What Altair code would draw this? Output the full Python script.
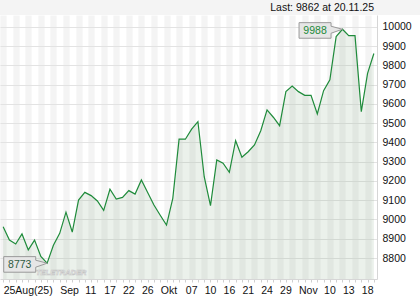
import json
import altair as alt
import pandas as pd

# ---- data ----
values = [8962, 8893, 8873, 8925, 8842, 8893, 8808, 8773, 8866, 8928,
          9038, 8935, 9101, 9141, 9124, 9096, 9047, 9157, 9106, 9115,
          9150, 9132, 9205, 9140, 9075, 9022, 8971, 9110, 9417, 9417,
          9469, 9508, 9222, 9072, 9309, 9292, 9245, 9409, 9323, 9352,
          9387, 9461, 9569, 9531, 9487, 9664, 9693, 9664, 9645, 9645,
          9548, 9669, 9725, 9950, 9988, 9955, 9955, 9560, 9759, 9862]
label_idx = [0, 9, 13, 16, 19, 22, 25, 29, 32, 35, 38, 41, 44, 47, 51, 54, 57]
label_txt = ["25Aug(25)", "Sep", "11", "17", "22", "26", "Okt", "07", "10",
             "16", "21", "24", "29", "Nov", "10", "13", "18"]
y_ticks = [8800, 8900, 9000, 9100, 9200, 9300, 9400, 9500, 9600, 9700,
           9800, 9900, 10000]
last_text = "Last: 9862 at 20.11.25"
watermark = "TELETRADER"

FONT = "Liberation Sans"
Y_MIN, Y_MAX = 8691, 10062
W, H = 377, 264
n = len(values)
idx = list(range(n))
df = pd.DataFrame({"i": idx, "v": values})

imax = values.index(max(values))
imin = values.index(min(values))
callouts = pd.DataFrame({
    "i": [imax, imin],
    "v": [values[imax], values[imin]],
    "t": [str(values[imax]), str(values[imin])],
    "c": ["#1c8a3a", "#2f5a40"],
})

xs = alt.Scale(domain=[-0.5, n - 0.5], nice=False, zero=False)
ys = alt.Scale(domain=[Y_MIN, Y_MAX], nice=False, zero=False)

label_expr = (f"indexof({label_idx}, datum.value) >= 0 ? "
              f"{json.dumps(label_txt)}[indexof({label_idx}, datum.value)] : ''")

# alternating day stripes are drawn as wide x-grid lines (one per data point)
x_axis = alt.Axis(values=idx, tickSize=3, tickColor="#cfcfcf", domainColor="#d6d6d6",
                  labelExpr=label_expr, labelAlign="left", labelFlush=False,
                  labelOverlap=False, labelFont=FONT, labelFontSize=10.5,
                  labelColor="#111111", labelPadding=3, title=None,
                  grid=True, gridWidth=W / n, gridOpacity=0.045,
                  gridColor={"condition": {"test": "datum.value % 2 == 0",
                                           "value": "#000000"},
                             "value": "transparent"})
y_axis = alt.Axis(orient="right", values=y_ticks, format="d", grid=True,
                  gridColor="#e3e3e3", tickSize=0, domainColor="#d6d6d6",
                  labelFont=FONT, labelFontSize=10.5, labelColor="#111111",
                  labelPadding=5, labelOverlap=False, title=None)

X = alt.X("i:Q", scale=xs, axis=x_axis)
Y = alt.Y("v:Q", scale=ys, axis=y_axis)

band = alt.Chart(pd.DataFrame({"k": [0]})).mark_rect(color="#f4f4f4").encode(
    x=alt.value(0), x2=alt.value(420), y=alt.value(-15), y2=alt.value(0))

header = alt.Chart(pd.DataFrame({"k": [1]})).mark_text(
    text=last_text, font=FONT, fontSize=10.5, color="#111111", align="right",
    baseline="alphabetic").encode(x=alt.value(374), y=alt.value(-4.5))

area = alt.Chart(df).mark_area(color="#6f9a6f", opacity=0.14, clip=True).encode(x=X, y=Y)

line = alt.Chart(df).mark_line(color="#1f8b3b", strokeWidth=1.2).encode(x=X, y=Y)

wm = alt.Chart(pd.DataFrame({"k": [2]})).mark_text(
    text=watermark, font=FONT, fontSize=7.5, fontWeight="bold", fontStyle="italic",
    fill="#ffffff", stroke="#c4c4c4", strokeWidth=0.6, align="left",
    baseline="alphabetic").encode(x=alt.value(36), y=alt.value(260))

callout_path = ("M -4.34 -0.66 L -1.14 -0.66 L -1.14 -0.3 L 0 0 L -1.14 0.4 "
                "L -1.14 0.9 L -4.34 0.9 Z")
boxes = alt.Chart(callouts).mark_point(
    shape=callout_path, size=400, filled=True, fill="#e6e6e6", stroke="#9a9a9a",
    strokeWidth=1, opacity=1).encode(x=X, y=Y)

texts = alt.Chart(callouts).mark_text(
    font=FONT, fontSize=10.5, dx=-27.4, dy=1.3, align="center", baseline="middle").encode(
    x=X, y=Y, text="t:N", color=alt.Color("c:N", scale=None))

chart = alt.layer(band, header, area, line, wm, boxes, texts).properties(
    width=W, height=H,
    autosize=alt.AutoSizeParams(type="none"),
    padding={"left": 0, "top": 15, "right": 43, "bottom": 21},
).configure_view(strokeWidth=0)

chart.save("out.html", embed_options={"renderer": "svg", "actions": False})
